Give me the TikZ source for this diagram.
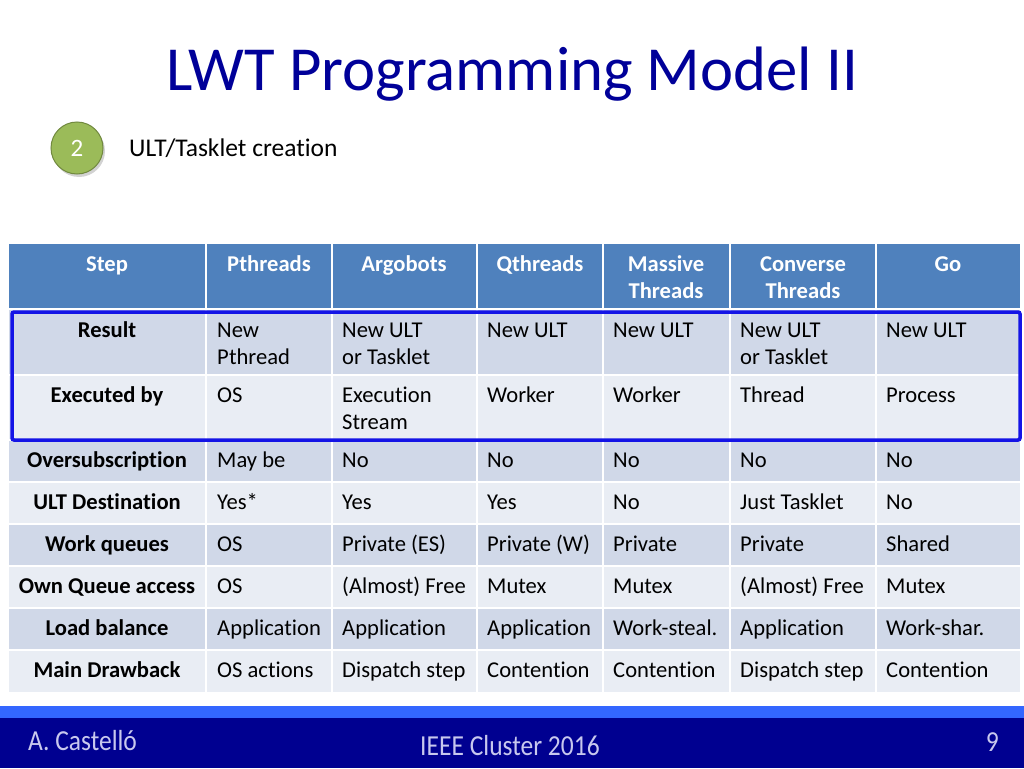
\documentclass[tikz,border=0pt]{standalone}
\usepackage{fontspec}
\setmainfont{Carlito}[Ligatures={NoCommon}]
\usetikzlibrary{shadows}
\definecolor{hdr}{HTML}{4F81BD}
\definecolor{rowd}{HTML}{D0D8E8}
\definecolor{rowl}{HTML}{E9EDF4}
\definecolor{hibox}{HTML}{1414E6}
\definecolor{navy}{HTML}{000090}
\definecolor{band}{HTML}{3366FF}
\definecolor{foot}{HTML}{C8C8EE}
\definecolor{titlec}{HTML}{000099}
\definecolor{olive}{HTML}{9BBB59}
\definecolor{oliveb}{HTML}{71893F}
\newcommand\twol[2]{\vtop{\baselineskip=27pt\halign{##\hfil\cr#1\cr#2\cr}}}
\newcommand\twoc[2]{\vtop{\baselineskip=27pt\halign{\hfil##\hfil\cr#1\cr#2\cr}}}
\tikzset{
  cellt/.style={anchor=base west, inner sep=0pt, font=\fontsize{22.6}{27}\selectfont, text=black},
  firstc/.style={anchor=base, inner sep=0pt, font=\fontsize{22.6}{27}\selectfont\bfseries, text=black},
  headc/.style={anchor=base, inner sep=0pt, font=\fontsize{22.6}{27}\selectfont\bfseries, text=white},
  grid/.style={draw=white, line width=2pt},
  foottext/.style={text=foot, inner sep=0pt, font=\fontsize{29}{32}\selectfont},
}
\begin{document}
\begin{tikzpicture}[x=1pt,y=-1pt]
\useasboundingbox (0,0) rectangle (1024,768);
\fill[white] (0,0) rectangle (1024,768);
% title
\node[anchor=base, inner sep=0pt, text=titlec, font=\fontsize{62.7}{70}\selectfont] (title) at (512,90) {LWT Programming Model II};
% circle
\node[circle, fill=olive, draw=oliveb, line width=1pt, minimum size=52pt, inner sep=0pt, drop shadow={shadow xshift=2pt, shadow yshift=-3pt, opacity=0.35}, text=white, font=\fontsize{25}{27}\selectfont] (num) at (77,148) {2};
\node[anchor=base west, inner sep=0pt, font=\fontsize{25.5}{28}\selectfont] (sub) at (129,156) {ULT/Tasklet creation};
% row fills
\fill[hdr] (9,244) rectangle (1020,309);
\fill[rowd] (9,309) rectangle (1020,375);
\fill[rowl] (9,375) rectangle (1020,440);
\fill[rowd] (9,440) rectangle (1020,482);
\fill[rowl] (9,482) rectangle (1020,524);
\fill[rowd] (9,524) rectangle (1020,566);
\fill[rowl] (9,566) rectangle (1020,608);
\fill[rowd] (9,608) rectangle (1020,650);
\fill[rowl] (9,650) rectangle (1020,692);
% grid lines
\foreach \y in {309,375,440,482,524,566,608,650} \draw[grid] (9,\y) -- (1020,\y);
\foreach \x in {206,332,477,603,730,876} \draw[grid] (\x,244) -- (\x,692);
% header
\node[headc] (h1) at (107,271) {Step};
\node[headc] (h2) at (269,271) {Pthreads};
\node[headc] (h3) at (404,271) {Argobots};
\node[headc] (h4) at (540,271) {Qthreads};
\node[headc] (h5) at (666,271) {\twoc{Massive}{Threads}};
\node[headc] (h6) at (803,271) {\twoc{Converse}{Threads}};
\node[headc] (h7) at (948,271) {Go};
% first column
\node[firstc] (r1) at (107,337) {Result};
\node[firstc] (r2) at (107,402) {Executed by};
\node[firstc] (r3) at (107,467) {Oversubscription};
\node[firstc] (r4) at (107,509) {ULT Destination};
\node[firstc] (r5) at (107,551) {Work queues};
\node[firstc] (r6) at (107,593) {Own Queue access};
\node[firstc] (r7) at (107,635) {Load balance};
\node[firstc] (r8) at (107,677) {Main Drawback};
% row Result
\node[cellt] (c12) at (217,337) {\twol{New}{Pthread}};
\node[cellt] (c13) at (342,337) {\twol{New ULT}{or Tasklet}};
\node[cellt] (c14) at (487,337) {New ULT};
\node[cellt] (c15) at (613,337) {New ULT};
\node[cellt] (c16) at (740,337) {\twol{New ULT}{or Tasklet}};
\node[cellt] (c17) at (886,337) {New ULT};
% row Executed by
\node[cellt] (c22) at (217,402) {OS};
\node[cellt] (c23) at (342,402) {\twol{Execution}{Stream}};
\node[cellt] (c24) at (487,402) {Worker};
\node[cellt] (c25) at (613,402) {Worker};
\node[cellt] (c26) at (740,402) {Thread};
\node[cellt] (c27) at (886,402) {Process};
% Oversubscription
\node[cellt] (c32) at (217,467) {May be};
\node[cellt] (c33) at (342,467) {No};
\node[cellt] (c34) at (487,467) {No};
\node[cellt] (c35) at (613,467) {No};
\node[cellt] (c36) at (740,467) {No};
\node[cellt] (c37) at (886,467) {No};
% ULT Destination
\node[cellt] (c42) at (217,509) {Yes*};
\node[cellt] (c43) at (342,509) {Yes};
\node[cellt] (c44) at (487,509) {Yes};
\node[cellt] (c45) at (613,509) {No};
\node[cellt] (c46) at (740,509) {Just Tasklet};
\node[cellt] (c47) at (886,509) {No};
% Work queues
\node[cellt] (c52) at (217,551) {OS};
\node[cellt] (c53) at (342,551) {Private (ES)};
\node[cellt] (c54) at (487,551) {Private (W)};
\node[cellt] (c55) at (613,551) {Private};
\node[cellt] (c56) at (740,551) {Private};
\node[cellt] (c57) at (886,551) {Shared};
% Own Queue access
\node[cellt] (c62) at (217,593) {OS};
\node[cellt] (c63) at (342,593) {(Almost) Free};
\node[cellt] (c64) at (487,593) {Mutex};
\node[cellt] (c65) at (613,593) {Mutex};
\node[cellt] (c66) at (740,593) {(Almost) Free};
\node[cellt] (c67) at (886,593) {Mutex};
% Load balance
\node[cellt] (c72) at (217,635) {Application};
\node[cellt] (c73) at (342,635) {Application};
\node[cellt] (c74) at (487,635) {Application};
\node[cellt] (c75) at (613,635) {Work-steal.};
\node[cellt] (c76) at (740,635) {Application};
\node[cellt] (c77) at (886,635) {Work-shar.};
% Main Drawback
\node[cellt] (c82) at (217,677) {OS actions};
\node[cellt] (c83) at (342,677) {Dispatch step};
\node[cellt] (c84) at (487,677) {Contention};
\node[cellt] (c85) at (613,677) {Contention};
\node[cellt] (c86) at (740,677) {Dispatch step};
\node[cellt] (c87) at (886,677) {Contention};
% highlight box
\draw[hibox, line width=3.5pt, rounded corners=2pt] (12,312) rectangle (1020,440);
% footer
\fill[band] (0,706) rectangle (1024,718);
\fill[navy] (0,718) rectangle (1024,768);
\node[foottext, anchor=base west, xscale=0.88] (auth) at (28,750) {A. Castelló};
\node[foottext, anchor=base, xscale=0.88] (conf) at (510,755) {IEEE Cluster 2016};
\node[foottext, anchor=base east, xscale=0.88] (page) at (999,751) {9};
\end{tikzpicture}
\end{document}
